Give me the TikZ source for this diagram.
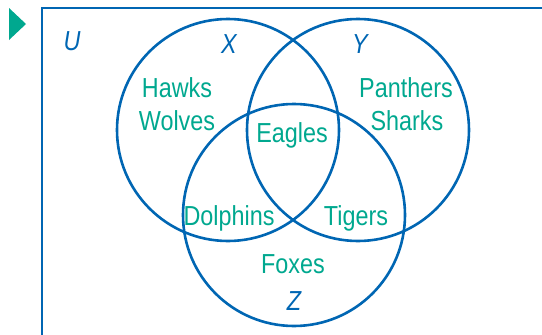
\documentclass[tikz,border=0pt]{standalone}
\usepackage{fontspec}
\setmainfont[FakeStretch=0.85]{Liberation Sans}
\definecolor{vennblue}{HTML}{0066B3}
\definecolor{venngreen}{HTML}{00A88F}
\begin{document}
\begin{tikzpicture}[x=1pt,y=-1pt,
  setline/.style={draw=vennblue, line width=2.6pt},
  team/.style={text=venngreen, font=\fontsize{27.5}{30}\selectfont, inner sep=0pt, anchor=base},
  setname/.style={text=vennblue, font=\fontsize{27.5}{30}\selectfont\itshape, inner sep=0pt, anchor=base}]
\useasboundingbox (0,0) rectangle (542,335);
\clip (0,0) rectangle (542,335);

\coordinate (X) at (228,130);
\coordinate (Y) at (358,130);
\coordinate (Z) at (294,215);

\fill[venngreen] (9,8) -- (26,24) -- (9,40) -- cycle;
\draw[setline] (42,8) rectangle (600,400);

\draw[setline] (X) circle[radius=111pt];
\draw[setline] (Y) circle[radius=111pt];
\draw[setline] (Z) circle[radius=111pt];

% set labels
\node[setname] (u) at (72,50) {U};
\node[setname] (x) at (229,53) {X};
\node[setname] (y) at (360,53) {Y};
\node[setname] (z) at (294,310) {Z};

% teams
\node[team] (hawks) at (177,97) {Hawks};
\node[team] (wolves) at (177,130) {Wolves};
\node[team] (panthers) at (406,97) {Panthers};
\node[team] (sharks) at (407,130) {Sharks};
\node[team] (eagles) at (292,142) {Eagles};
\node[team] (dolphins) at (229,225) {Dolphins};
\node[team] (tigers) at (356,225) {Tigers};
\node[team] (foxes) at (293,273) {Foxes};
\end{tikzpicture}
\end{document}
